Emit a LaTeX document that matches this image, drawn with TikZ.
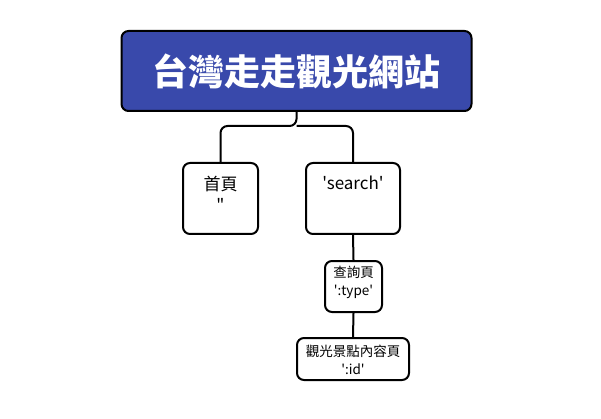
\documentclass[tikz,border=0pt]{standalone}
\usepackage{fontspec}
\setmainfont{Noto Sans CJK TC}[Ligatures=TeXOff]
\usetikzlibrary{positioning}
\definecolor{titleblue}{HTML}{3949AB}

\tikzset{
  pagebox/.style={draw, line width=2pt, rounded corners=7pt, fill=white},
  pagetext/.style={inner sep=0pt, align=center, font=\fontsize{17}{21}\selectfont},
  subtext/.style={inner sep=0pt, align=center, font=\fontsize{13.5}{18}\selectfont},
  link/.style={line width=2pt, rounded corners=7pt}
}

\begin{document}
\begin{tikzpicture}[x=1pt,y=-1pt]
\useasboundingbox (0,0) rectangle (601,419);

%draw title
\node[pagebox, fill=titleblue, minimum width=350pt, minimum height=80pt,
      text=white, font=\fontsize{36}{40}\selectfont\bfseries] (title) at (296.5,71) {台灣走走觀光網站};

%draw page boxes
\node[pagebox, minimum width=75pt, minimum height=71pt] (home) at (220.5,198.5) {};
\node[pagebox, minimum width=94pt, minimum height=71pt] (search) at (353,198.5) {};
\node[pagebox, minimum width=57pt, minimum height=51pt] (type) at (353.5,286.5) {};
\node[pagebox, minimum width=112pt, minimum height=42pt] (detail) at (353,359) {};

%draw texts
\node[pagetext, anchor=north] (homeText) at ([yshift=-14pt]home.north) {首頁\\"};
\node[pagetext, anchor=north] (searchText) at ([yshift=-14pt]search.north) {'search'};
\node[subtext, anchor=north] (typeText) at ([yshift=-6pt]type.north) {查詢頁\\':type'};
\node[subtext, anchor=north] (detailText) at ([yshift=-8pt]detail.north) {觀光景點內容頁\\':id'};

%draw links
\coordinate (fork) at ([yshift=-14pt]title.south);
\draw[link] (title.south) -- (fork) -| (home.north);
\draw[link] (fork) -| (search.north);
\draw[link] (search.south) -- (type.north);
\draw[link] (type.south) -- (detail.north);

\end{tikzpicture}
\end{document}
